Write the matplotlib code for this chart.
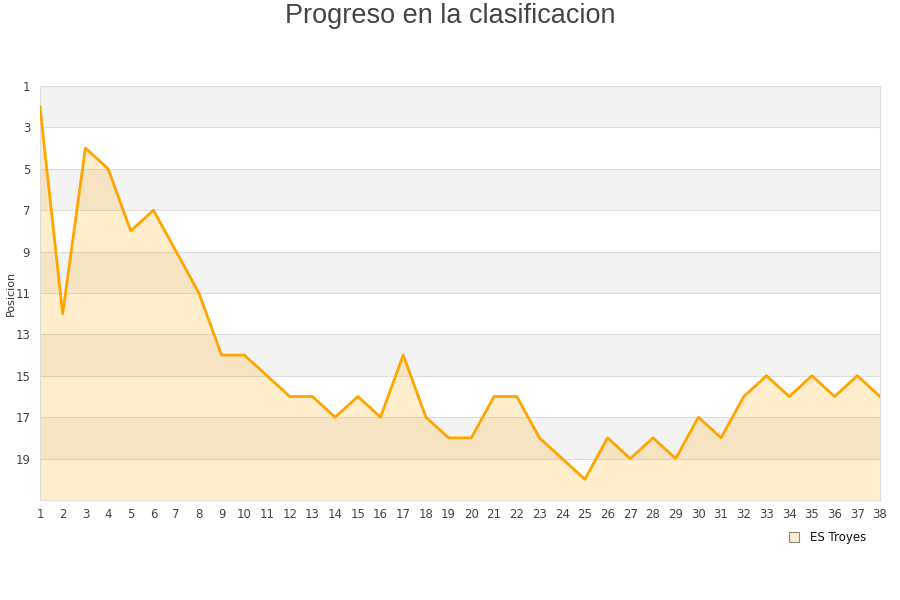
import matplotlib
matplotlib.use("Agg")
import matplotlib.pyplot as plt

rounds = list(range(1, 39))
positions = [2, 12, 4, 5, 8, 7, 9, 11, 14, 14, 15, 16, 16, 17, 16, 17, 14, 17, 18, 18,
             16, 16, 18, 19, 20, 18, 19, 18, 19, 17, 18, 16, 15, 16, 15, 16, 15, 16]
yticks = list(range(1, 21, 2))
team = "ES Troyes"
title = "Progreso en la clasificacion"
ylabel = "Posicion"

fig = plt.figure(figsize=(9, 6), dpi=100)
ax = fig.add_axes([0.0444, 0.1667, 0.9334, 0.69])

ax.set_xlim(1, 38)
ax.set_ylim(21, 1)

for lo in range(1, 21, 4):
    ax.axhspan(lo, lo + 2, color="#f3f3f3", zorder=0, lw=0)

ax.fill_between(rounds, positions, 21, color="#ffa500", alpha=0.2, lw=0, zorder=2)
ax.plot(rounds, positions, color="#ffa500", lw=2, zorder=3)

ax.set_yticks(yticks)
ax.set_xticks(rounds)
ax.yaxis.grid(True, color="#dddddd", lw=0.8, zorder=1)
ax.set_axisbelow(True)
ax.tick_params(axis="both", length=0, labelsize=8.5, colors="#444444")
ax.tick_params(axis="x", pad=6)
ax.tick_params(axis="y", pad=7)
for s in ax.spines.values():
    s.set_color("#dddddd")

ax.set_ylabel(ylabel, fontsize=8, color="#333333")
ax.yaxis.set_label_coords(-0.029, 0.5)

fig.text(0.5, 0.995, title, ha="center", va="top", fontsize=19.5, color="#444444",
         family="Liberation Sans")

h = plt.Line2D([], [], marker="s", ls="none", markersize=7, markerfacecolor="#ffeecc",
               markeredgecolor="#888888", markeredgewidth=0.8)
fig.legend([h], [team], loc="upper right", bbox_to_anchor=(0.972, 0.128), frameon=False,
           fontsize=8.5, handletextpad=0.4, borderpad=0.2, labelcolor="#111111")

fig.savefig("out.png", dpi=100)
